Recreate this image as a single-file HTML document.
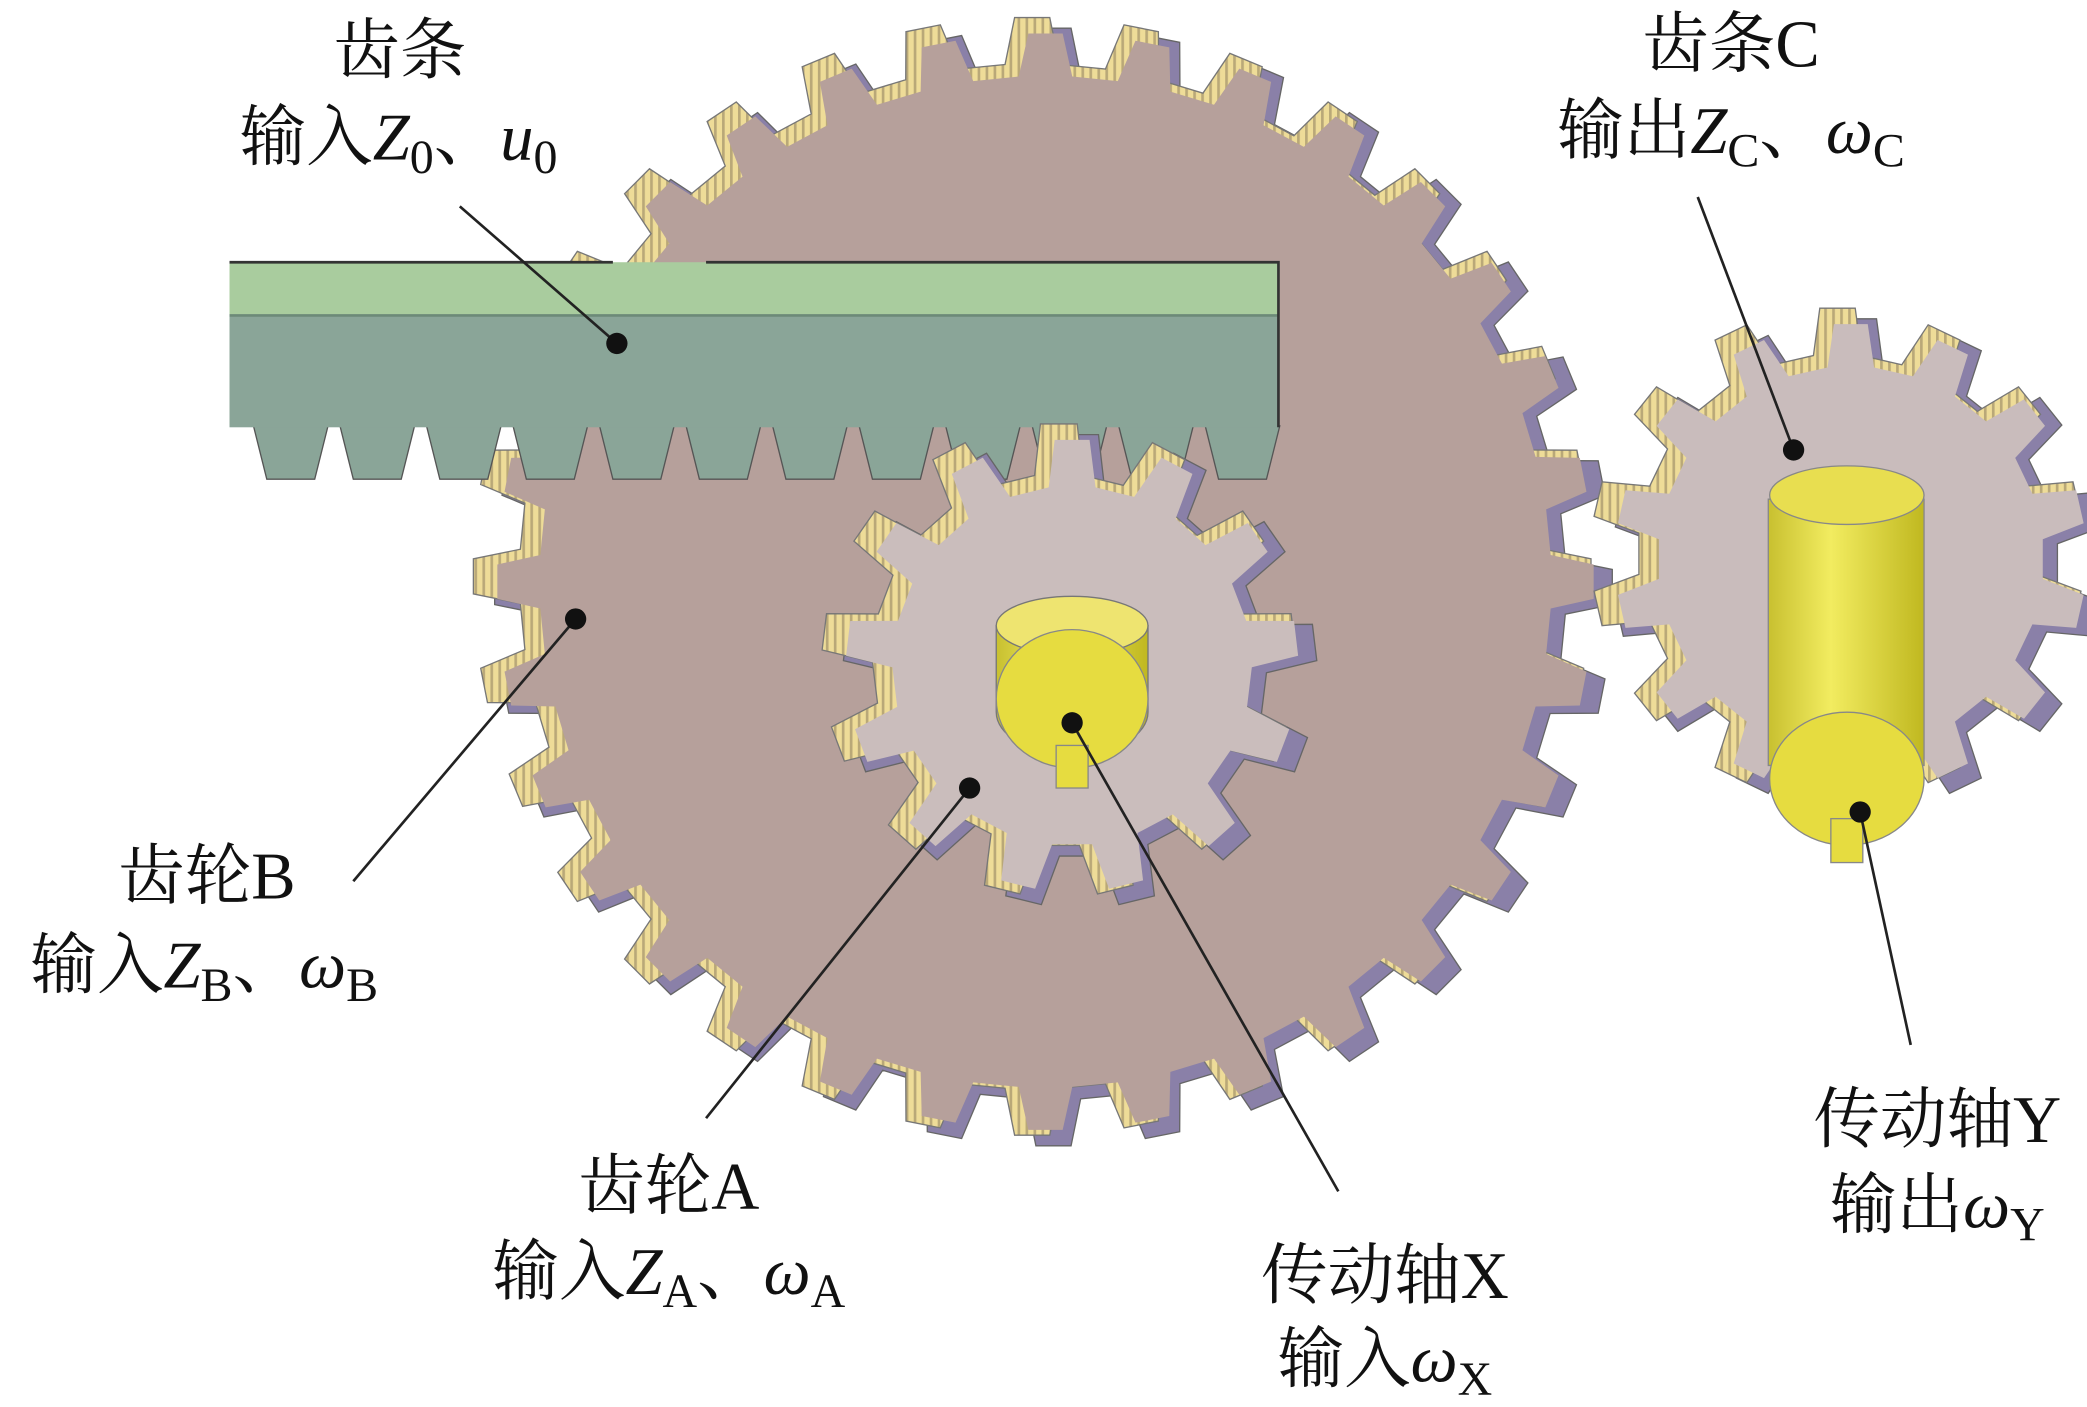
<!DOCTYPE html>
<html><head><meta charset="utf-8"><style>
html,body{margin:0;padding:0;background:#fff;}
svg{display:block;}
text{font-family:"Liberation Serif","Noto Serif CJK SC",serif;font-size:50px;fill:#111;}
.i{font-style:italic;}
.s{font-size:36px;}
</style></head><body>
<svg id="sv" width="2087" height="1407" viewBox="0 0 1567 1057" xmlns="http://www.w3.org/2000/svg">
<defs>
<pattern id="stripe" width="6" height="6" patternUnits="userSpaceOnUse">
<rect width="6" height="6" fill="#eedc98"/><rect width="2" height="6" fill="#b9a878"/>
</pattern>
<linearGradient id="cyl" x1="0" x2="1"><stop offset="0" stop-color="#c8c030"/><stop offset="0.4" stop-color="#f2ec60"/><stop offset="1" stop-color="#c0b820"/></linearGradient>
</defs>
<g id="gears"></g>
<!-- rack -->
<g>
<path id="rackteeth" fill="#8aa598" stroke="#555" stroke-width="1"/>
<rect x="172" y="237" width="788" height="84" fill="#8aa598"/>
<rect x="172" y="197" width="788" height="40" fill="#a9cc9e"/>
<line x1="172" y1="237" x2="960" y2="237" stroke="#6c8a78" stroke-width="2"/>
<path d="M172 197 H460 M530 197 H960 V321" stroke="#333" stroke-width="2" fill="none"/>
</g>
<g id="gears2"></g>
<!-- shaft X -->
<path d="M748 470 V535 A57 32 0 0 0 862 535 V470 Z" fill="url(#cyl)" stroke="#777"/>
<ellipse cx="805" cy="470" rx="57" ry="22" fill="#eee470" stroke="#777"/>
<ellipse cx="805" cy="525" rx="57" ry="52" fill="#e6dc40" stroke="#888"/>
<rect x="793" y="560" width="24" height="32" fill="#e6dc40" stroke="#888"/>
<!-- shaft Y -->
<path d="M1328 375 V575 H1445 V375 Z" fill="url(#cyl)" stroke="#888"/>
<ellipse cx="1387" cy="372" rx="58" ry="22" fill="#e8de50" stroke="#888"/>
<ellipse cx="1387" cy="585" rx="58" ry="50" fill="#e6dc40" stroke="#888"/>
<rect x="1375" y="615" width="24" height="33" fill="#e6dc40" stroke="#888"/>
<!-- leaders -->
<g stroke="#222" stroke-width="2">
<line x1="345" y1="155" x2="463" y2="258"/>
<line x1="265" y1="662" x2="432" y2="465"/>
<line x1="530" y1="840" x2="728" y2="592"/>
<line x1="1005" y1="895" x2="805" y2="543"/>
<line x1="1275" y1="148" x2="1347" y2="338"/>
<line x1="1435" y1="785" x2="1397" y2="610"/>
</g>
<g fill="#111">
<circle cx="463" cy="258" r="8"/><circle cx="432" cy="465" r="8"/><circle cx="728" cy="592" r="8"/>
<circle cx="805" cy="543" r="8"/><circle cx="1347" cy="338" r="8"/><circle cx="1397" cy="610" r="8"/>
</g>
<!-- labels -->
<g text-anchor="middle">
<text x="300" y="55">齿条</text>
<text x="299" y="120">输入<tspan class="i">Z</tspan><tspan class="s" dy="10">0</tspan><tspan dy="-10">、</tspan><tspan class="i">u</tspan><tspan class="s" dy="10">0</tspan></text>
<text x="1300" y="50">齿条C</text>
<text x="1300" y="115">输出<tspan class="i">Z</tspan><tspan class="s" dy="10">C</tspan><tspan dy="-10">、</tspan><tspan class="i">ω</tspan><tspan class="s" dy="10">C</tspan></text>
<text x="155" y="675">齿轮B</text>
<text x="153" y="742">输入<tspan class="i">Z</tspan><tspan class="s" dy="10">B</tspan><tspan dy="-10">、</tspan><tspan class="i">ω</tspan><tspan class="s" dy="10">B</tspan></text>
<text x="502" y="908">齿轮A</text>
<text x="502" y="972">输入<tspan class="i">Z</tspan><tspan class="s" dy="10">A</tspan><tspan dy="-10">、</tspan><tspan class="i">ω</tspan><tspan class="s" dy="10">A</tspan></text>
<text x="1040" y="975">传动轴X</text>
<text x="1040" y="1038">输入<tspan class="i">ω</tspan><tspan class="s" dy="10">X</tspan></text>
<text x="1455" y="858">传动轴Y</text>
<text x="1455" y="922">输出<tspan class="i">ω</tspan><tspan class="s" dy="10">Y</tspan></text>
</g>
</svg>
<script>
function gear(cx,cy,n,r,R,ph){
  var p="",t=2*Math.PI/n;
  for(var k=0;k<n;k++){
    var a=ph+k*t;
    var pts=[[r,a-0.27*t],[R,a-0.16*t],[R,a+0.16*t],[r,a+0.27*t],[r,a+0.73*t]];
    pts.forEach(function(q,j){
      var x=cx+q[0]*Math.cos(q[1]),y=cy+q[0]*Math.sin(q[1]);
      p+=(k==0&&j==0?"M":"L")+x.toFixed(1)+" "+y.toFixed(1);
    });
  }
  return p+"Z";
}
function add(g,d,fill,stroke,dx,dy){
  var e=document.createElementNS("http://www.w3.org/2000/svg","path");
  e.setAttribute("d",d);e.setAttribute("fill",fill);
  if(stroke){e.setAttribute("stroke",stroke);e.setAttribute("stroke-width","1");}
  if(dx||dy)e.setAttribute("transform","translate("+dx+","+dy+")");
  g.appendChild(e);
}
var g1=document.getElementById("gears"),g2=document.getElementById("gears2");
var dB=gear(785,437,32,385,420,-Math.PI/2);
add(g1,dB,"#8a80a8","#666",6,4);
add(g1,dB,"url(#stripe)","#777",-10,-4);
add(g1,gear(785,437,32,380,412,-Math.PI/2),"#b6a09b",null);
var dC=gear(1390,420,14,150,185,-Math.PI/2);
add(g1,dC,"#8a80a8","#666",6,4);
add(g1,dC,"url(#stripe)","#777",-10,-4);
add(g1,gear(1390,420,14,145,177,-Math.PI/2),"#c9bcbc",null);
var rp="";
for(var i=0;i<12;i++){var x=190+i*65;rp+="M"+x+" 320 L"+(x+10)+" 360 H"+(x+46)+" L"+(x+56)+" 320 Z";}
document.getElementById("rackteeth").setAttribute("d",rp);
var dA=gear(805,500,13,140,178,-Math.PI/2);
add(g2,dA,"#8a80a8","#666",6,4);
add(g2,dA,"url(#stripe)","#777",-10,-4);
add(g2,gear(805,500,13,135,170,-Math.PI/2),"#cabdbc",null);
</script>
</body></html>
